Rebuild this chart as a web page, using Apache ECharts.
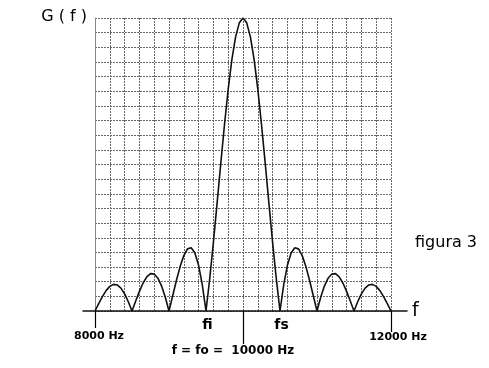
<!DOCTYPE html>
<html>
<head>
<meta charset="utf-8">
<script src="https://cdn.jsdelivr.net/npm/echarts@6/dist/echarts.min.js"></script>
<style>html,body{margin:0;padding:0;background:#fff;}#c{width:489px;height:368px;}</style>
</head>
<body>
<div id="c"></div>
<script>
// Frequency samples (Hz)
var freqs = [
  8000, 8050, 8100, 8150, 8200, 8250, 8300, 8350, 8400, 8450,
  8500, 8550, 8600, 8650, 8700, 8750, 8800, 8850, 8900, 8950,
  9000, 9050, 9100, 9150, 9200, 9250, 9300, 9350, 9400, 9450,
  9500, 9550, 9600, 9650, 9700, 9750, 9800, 9850, 9900, 9950,
  10000, 10050, 10100, 10150, 10200, 10250, 10300, 10350, 10400, 10450,
  10500, 10550, 10600, 10650, 10700, 10750, 10800, 10850, 10900, 10950,
  11000, 11050, 11100, 11150, 11200, 11250, 11300, 11350, 11400, 11450,
  11500, 11550, 11600, 11650, 11700, 11750, 11800, 11850, 11900, 11950,
  12000
];
// G(f), in grid cells (20 cells full height)
var gains = [
  0, 0.50, 0.98, 1.39, 1.68, 1.82, 1.78, 1.56, 1.17, 0.63,
  0, 0.68, 1.34, 1.91, 2.33, 2.55, 2.52, 2.24, 1.70, 0.94,
  0, 1.04, 2.08, 3.03, 3.78, 4.24, 4.32, 3.96, 3.12, 1.79,
  0, 2.19, 4.68, 7.36, 10.09, 12.73, 15.14, 17.17, 18.71, 19.67,
  20, 19.67, 18.71, 17.17, 15.14, 12.73, 10.09, 7.36, 4.68, 2.19,
  0, 1.79, 3.12, 3.96, 4.32, 4.24, 3.78, 3.03, 2.08, 1.04,
  0, 0.94, 1.70, 2.24, 2.52, 2.55, 2.33, 1.91, 1.34, 0.68,
  0, 0.63, 1.17, 1.56, 1.78, 1.82, 1.68, 1.39, 0.98, 0.50,
  0
];
var xMin = 8000, xMax = 12000, xStep = 200;
var yMin = 0, yMax = 20, yStep = 1;
var edgeTicks = [8000, 12000];
var centerTick = 10000;
var bandEdges = [9500, 10500];
var bandNames = ['fi', 'fs'];
var edgeLabels = ['8000 Hz', '12000 Hz'];
var centerLabel = 'f = fo =  10000 Hz';

var chart = echarts.init(document.getElementById('c'), null, {renderer: 'canvas'});
var grid0 = {left: 95, right: 98, top: 18, bottom: 57};
var gridLine = {color: '#666', type: [2, 1], width: 1};

function tickAxis(values, len, labelFn, fontSize, margin, pad) {
  return {
    type: 'value', gridIndex: 0, min: xMin, max: xMax, position: 'bottom',
    axisLine: {show: false}, splitLine: {show: false},
    axisTick: {show: len > 0, customValues: values, length: len, lineStyle: {color: '#000', width: 1.2}},
    axisLabel: {show: true, customValues: values, formatter: labelFn, margin: margin,
      fontSize: fontSize, fontFamily: 'DejaVu Sans', fontWeight: 'bold', color: '#000', padding: pad || 0}
  };
}

var option = {
  backgroundColor: '#fff',
  animation: false,
  title: {text: 'figura 3', left: 410, top: 230, textStyle: {fontFamily: 'DejaVu Sans', fontSize: 16, fontWeight: 'normal', color: '#000'}},
  grid: [grid0, {left: 83, right: 82, top: 18, bottom: 57}],
  xAxis: [
    {type: 'value', gridIndex: 0, min: xMin, max: xMax, interval: xStep,
      axisLine: {show: false}, axisTick: {show: false}, axisLabel: {show: false},
      splitLine: {show: true, lineStyle: gridLine}},
    {type: 'value', gridIndex: 1, min: 0, max: 1, position: 'bottom',
      axisLine: {show: true, lineStyle: {color: '#111', width: 1.5}}, axisTick: {show: false}, axisLabel: {show: false},
      splitLine: {show: false},
      name: 'f', nameLocation: 'end', nameGap: 5,
      nameTextStyle: {fontFamily: 'DejaVu Sans', fontSize: 19, color: '#000', verticalAlign: 'middle', padding: [0, 0, 3, 0]}},
    tickAxis([edgeTicks[0]], 17, function () { return edgeLabels[0]; }, 11, 20, [0, 0, 0, 8]),
    tickAxis([edgeTicks[1]], 21, function () { return edgeLabels[1]; }, 11, 21, [0, 0, 0, 14]),
    tickAxis([centerTick], 33, function () { return centerLabel; }, 12, 34, [0, 20, 0, 0]),
    tickAxis(bandEdges, 0, function (v) { return bandNames[bandEdges.indexOf(v)]; }, 14, 7, [0, 0, 0, 3])
  ],
  yAxis: [
    {type: 'value', gridIndex: 0, min: yMin, max: yMax, interval: yStep,
      axisLine: {show: true, lineStyle: {color: '#888', width: 1}}, axisTick: {show: false}, axisLabel: {show: false},
      splitLine: {show: true, lineStyle: gridLine},
      name: 'G ( f )', nameLocation: 'end', nameGap: 1,
      nameTextStyle: {fontFamily: 'DejaVu Sans', fontSize: 16, color: '#000', align: 'right', verticalAlign: 'middle', padding: [0, 8, 0, 0]}},
    {type: 'value', gridIndex: 1, min: 0, max: 1, show: false}
  ],
  series: [{
    type: 'line', xAxisIndex: 0, yAxisIndex: 0, showSymbol: false, smooth: false,
    lineStyle: {color: '#111', width: 1.6},
    data: freqs.map(function (f, i) { return [f, gains[i]]; })
  }]
};
chart.setOption(option);
</script>
</body>
</html>
